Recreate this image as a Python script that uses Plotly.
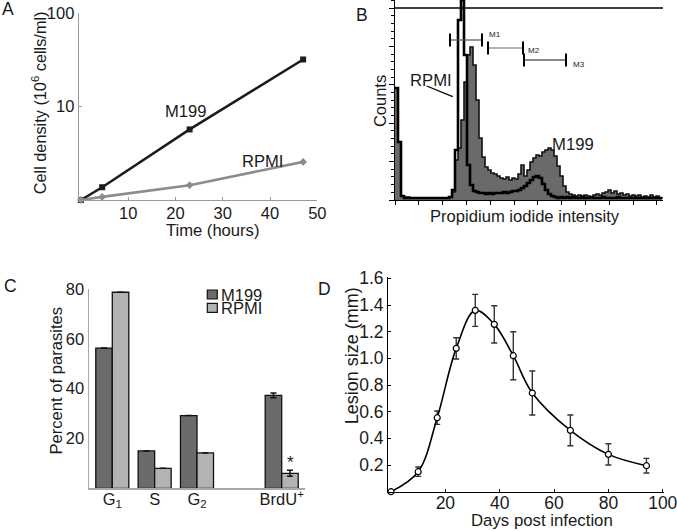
import plotly.graph_objects as go

W, H = 677, 531
FONT = "Liberation Sans, Arial, Helvetica, sans-serif"
INK = "#1a1a1a"

# ---------------- Panel A : growth curves ----------------
time_hours = [0, 4.5, 23, 47]
density_m199 = [1.0, 1.37, 5.7, 32.0]
density_rpmi = [1.0, 1.08, 1.44, 2.56]
a_xticks = [10, 20, 30, 40, 50]
a_yticks = [10, 100]

# ---------------- Panel B : PI histogram ----------------
pi_channel = list(range(0, 270, 3))
counts_m199 = [112, 58, 4, 3, 3, 2, 2, 2, 2, 2, 2, 2, 2, 2, 2, 2, 2, 2, 3, 8,
               40, 52, 80, 118, 145, 153, 135, 100, 62, 43, 33, 30, 27, 26, 24, 22, 21, 23, 20, 22,
               21, 26, 35, 24, 30, 38, 42, 45, 44, 48, 50, 52, 50, 44, 34, 24, 14, 8, 6, 5,
               4, 5, 4, 5, 4, 3, 5, 6, 5, 7, 8, 10, 7, 9, 6, 7, 5, 6, 4, 5,
               4, 5, 3, 4, 3, 5, 3, 4, 2, 3]
counts_rpmi = [112, 58, 4, 2, 2, 2, 2, 2, 2, 2, 2, 2, 2, 2, 2, 2, 2, 2, 3, 10,
               50, 180, 200, 145, 35, 15, 9, 8, 7, 7, 6, 7, 6, 7, 7, 7, 8, 7, 8, 9,
               9, 10, 12, 14, 17, 20, 23, 24, 22, 16, 10, 6, 4, 3, 2, 3, 2, 3, 2, 3,
               2, 2, 3, 2, 2, 3, 2, 2, 2, 3, 2, 2, 2, 2, 3, 2, 2, 2, 2, 2,
               2, 2, 2, 2, 2, 2, 2, 2, 2, 2]
gate_names = ["M1", "M2", "M3"]
gate_start = [55, 93, 129]
gate_end = [87, 128, 171]
gate_level = [160, 152, 140]
gate_colors = ["#555555", "#666666", "#111111"]

# ---------------- Panel C : cell-cycle bars ----------------
phase_labels = ["G<sub>1</sub>", "S", "G<sub>2</sub>", "", "BrdU<sup>+</sup>"]
pct_m199 = [56.3, 15.0, 29.2, None, 37.3]
pct_rpmi = [78.7, 8.0, 14.2, None, 6.0]
err_m199 = [None, None, None, None, 1.0]
err_rpmi = [None, None, None, None, 1.2]
c_yticks = [20, 40, 60, 80]

# ---------------- Panel D : lesion size ----------------
days = [0, 10, 17, 24, 31, 38, 45, 52, 66, 80, 94]
lesion_mm = [0.0, 0.15, 0.555, 1.075, 1.36, 1.255, 1.02, 0.74, 0.46, 0.28, 0.195]
lesion_err = [None, 0.035, 0.05, 0.08, 0.12, 0.14, 0.18, 0.165, 0.115, 0.08, 0.055]
d_xticks = [20, 40, 60, 80, 100]
d_yticks = [0.2, 0.4, 0.6, 0.8, 1.0, 1.2, 1.4, 1.6]


def xd(a, b):
    return [a / W, b / W]


def yd(top, bottom):
    return [1 - bottom / H, 1 - top / H]


def px(x):
    return x / W


def py(y):
    return 1 - y / H


fig = go.Figure()

# Panel A
fig.add_trace(go.Scatter(x=time_hours, y=density_m199, mode="lines+markers",
                         line=dict(color="#1c1c1c", width=2.6),
                         marker=dict(symbol="square", size=6, color="#1c1c1c"),
                         xaxis="x", yaxis="y", cliponaxis=False))
fig.add_trace(go.Scatter(x=time_hours, y=density_rpmi, mode="lines+markers",
                         line=dict(color="#8c8c8c", width=2.6),
                         marker=dict(symbol="diamond", size=6, color="#8c8c8c"),
                         xaxis="x", yaxis="y", cliponaxis=False))

# Panel B
fig.add_trace(go.Scatter(x=pi_channel, y=counts_m199, mode="lines", line_shape="hv",
                         line=dict(color="#111111", width=1.6), fill="tozeroy",
                         fillcolor="#6a6a6a", xaxis="x2", yaxis="y2"))
fig.add_trace(go.Scatter(x=pi_channel, y=counts_rpmi, mode="lines", line_shape="hv",
                         line=dict(color="#000000", width=2.6),
                         xaxis="x2", yaxis="y2"))

# Panel C
xpos = list(range(len(phase_labels)))
fig.add_trace(go.Bar(x=xpos, y=pct_m199, marker=dict(color="#6b6b6b", line=dict(color="#111111", width=1.3)),
                     error_y=dict(type="data", array=err_m199, color="#111111", thickness=1.5, width=3),
                     xaxis="x3", yaxis="y3"))
fig.add_trace(go.Bar(x=xpos, y=pct_rpmi, marker=dict(color="#b3b3b3", line=dict(color="#111111", width=1.3)),
                     error_y=dict(type="data", array=err_rpmi, color="#111111", thickness=1.5, width=3),
                     xaxis="x3", yaxis="y3"))

# Panel D
fig.add_trace(go.Scatter(x=days, y=lesion_mm, mode="lines+markers", line_shape="spline",
                         line=dict(color="#000000", width=1.6),
                         marker=dict(symbol="circle", size=6, color="white",
                                     line=dict(color="#000000", width=1.2)),
                         error_y=dict(type="data", array=lesion_err, color="#333333", thickness=1.4, width=3),
                         xaxis="x4", yaxis="y4", cliponaxis=False))

tickfont = dict(family=FONT, size=16.5, color=INK)
dfont = dict(family=FONT, size=17.5, color=INK)
common = dict(showgrid=False, zeroline=False, showline=True, automargin=False)
layout = dict(
    template="none",
    width=W, height=H, margin=dict(l=0, r=0, t=0, b=0, pad=0), autosize=False,
    paper_bgcolor="white", plot_bgcolor="white", showlegend=False,
    font=dict(family=FONT, color=INK),
    barmode="group", bargap=0.22, bargroupgap=0,
    xaxis=dict(domain=xd(79, 317.3), range=[-0.4, 50], tickvals=a_xticks, linecolor="#9a9a9a",
               linewidth=1.3, ticks="inside", ticklen=3, tickcolor="#9a9a9a", tickfont=tickfont,
               anchor="y", ticklabelstandoff=-2, **common),
    yaxis=dict(domain=yd(13.3, 200), type="log", range=[0, 2], tickvals=a_yticks, linecolor="#9a9a9a",
               linewidth=1.3, ticks="inside", ticklen=3, tickcolor="#9a9a9a", tickfont=tickfont,
               anchor="x", **common),
    xaxis2=dict(domain=xd(395, 663), range=[0, 268], linecolor="#000000", linewidth=1.3,
                ticks="outside", ticklen=4, tickcolor="#000000", tickmode="linear", tick0=0, dtick=23.8,
                showticklabels=False, anchor="y2", **common),
    yaxis2=dict(domain=yd(0, 200), range=[0, 200], linecolor="#000000", linewidth=1.3,
                ticks="outside", ticklen=5, tickcolor="#000000", tickmode="linear", tick0=0, dtick=38.4,
                showticklabels=False, anchor="x2",
                minor=dict(dtick=7.68, ticklen=3, ticks="outside", tickcolor="#000000", showgrid=False),
                **common),
    xaxis3=dict(domain=xd(89, 305), range=[-0.55, 4.55], tickvals=xpos, ticktext=phase_labels,
                linecolor="#a8a8a8", linewidth=1.5, ticks="", tickfont=tickfont, anchor="y3",
                ticklabelstandoff=-5, **common),
    yaxis3=dict(domain=yd(289, 488.3), range=[0, 80], tickvals=c_yticks, linecolor="#a8a8a8",
                linewidth=1.5, ticks="", tickfont=tickfont, anchor="x3", **common),
    xaxis4=dict(domain=xd(388.3, 664.1), range=[-1.0, 100.5], tickvals=d_xticks, linecolor="#000000",
                linewidth=1.3, ticks="inside", ticklen=3, tickcolor="#000000",
                tickfont=dfont, anchor="y4", ticklabelstandoff=-5, ticklabeloverflow="allow", **common),
    yaxis4=dict(domain=yd(276.7, 491.7), range=[0, 1.6125], tickvals=d_yticks, tickformat=".1f",
                linecolor="#000000", linewidth=1.3, ticks="inside", ticklen=3, tickcolor="#000000",
                tickfont=dfont, anchor="x4", **common),
)
fig.update_layout(**layout)

ann = []


def text(t, x, y, size=16.5, angle=0, xanchor="center"):
    ann.append(dict(text=t, x=px(x), y=py(y), xref="paper", yref="paper", showarrow=False,
                    textangle=angle, xanchor=xanchor, yanchor="middle",
                    font=dict(family=FONT, size=size, color=INK)))


# panel letters
text("A", 7.5, 9, 17.5)
text("B", 361.7, 15, 17.5)
text("C", 11, 286, 17.5)
text("D", 324, 289, 17.5)
# Panel A titles / labels
text("Cell density (10<sup>6</sup> cells/ml)", 39.3, 103, 16.3, -90)
text("Time (hours)", 212.7, 230.5, 16.6)
text("M199", 186, 111.3, 16.6)
text("RPMI", 262, 161, 16.6)
# Panel B
text("Counts", 379.3, 100.8, 16.5, -90)
text("Propidium iodide intensity", 525.3, 216.7, 16.6)
text("RPMI", 430.8, 80.5, 16.7)
text("M199", 572.5, 145, 16.7)
for name, x0, yv in zip(gate_names, [494.5, 534, 579], [34, 50.3, 64]):
    text(name, x0, yv, 8)
# Panel C
text("Percent of parasites", 56.7, 380.8, 16.6, -90)
text("M199", 218.5, 294.5, 16.5, xanchor="left")
text("RPMI", 218.5, 307.8, 16.5, xanchor="left")
text("*", 290, 462, 17)
# Panel D
text("Lesion size (mm)", 351.5, 355.8, 18, -90)
text("Days post infection", 541.7, 520.7, 16.8)
fig.update_layout(annotations=ann)

shapes = []
# Panel B frame top line
shapes.append(dict(type="line", xref="x2", yref="y2", x0=0, x1=268, y0=192, y1=192,
                   line=dict(color="#000000", width=1.3)))
# gates
for s, e, lv, col in zip(gate_start, gate_end, gate_level, gate_colors):
    shapes.append(dict(type="line", xref="x2", yref="y2", x0=s, x1=e, y0=lv, y1=lv,
                       line=dict(color=col, width=1.2)))
    for xe in (s, e):
        shapes.append(dict(type="line", xref="x2", yref="y2", x0=xe, x1=xe, y0=lv - 6.5, y1=lv + 6.5,
                           line=dict(color="#000000", width=2)))
# RPMI leader line
shapes.append(dict(type="line", xref="x2", yref="y2", x0=31.7, x1=57.7, y0=114, y1=103.3,
                   line=dict(color="#000000", width=1.3)))
# Panel C legend swatches
for top, col in [(290, "#6b6b6b"), (303.3, "#b3b3b3")]:
    shapes.append(dict(type="rect", xref="paper", yref="paper", x0=px(207.3), x1=px(217.3),
                       y0=py(top + 9), y1=py(top), fillcolor=col, line=dict(color="#111111", width=1.2)))
fig.update_layout(shapes=shapes)

fig.write_html("out.html", config={"displayModeBar": False, "staticPlot": True},
               post_script="document.body.style.margin='0';document.body.style.padding='0';"
                           "document.documentElement.style.overflow='hidden';")
